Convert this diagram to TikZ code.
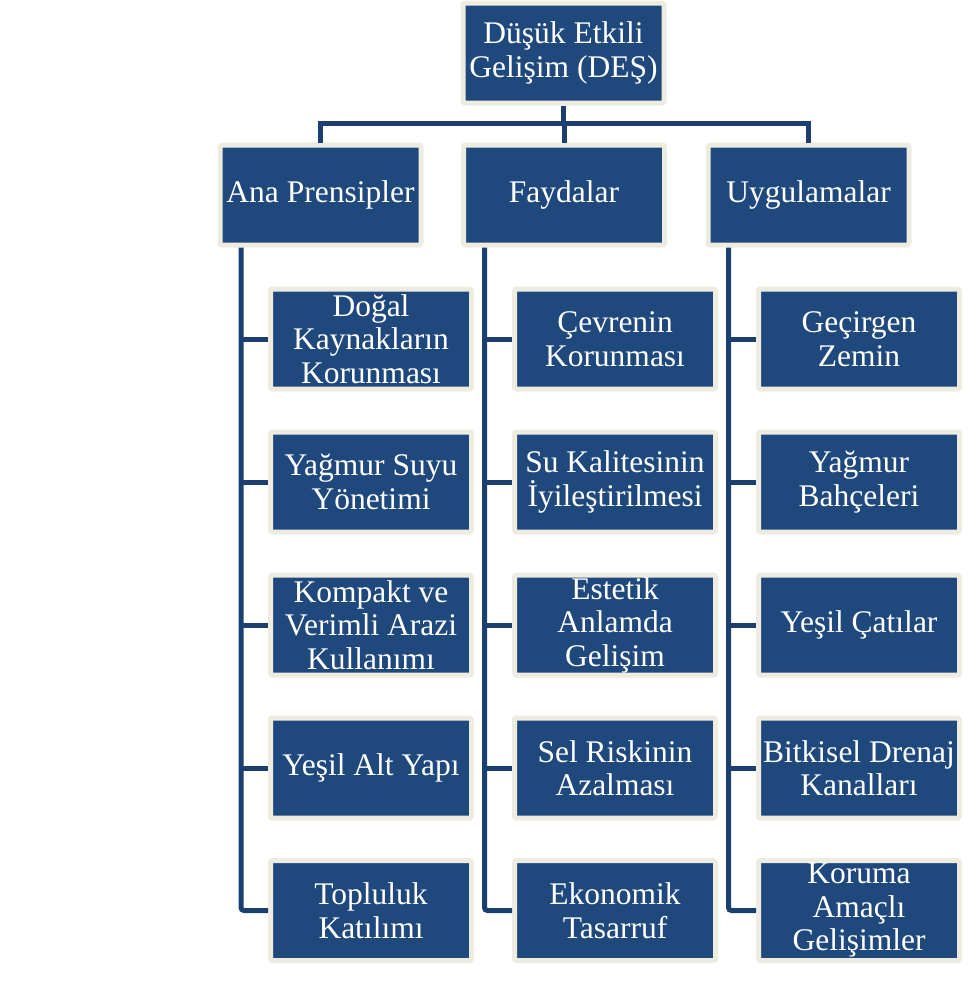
\documentclass[tikz,border=0pt]{standalone}
\usepackage{fontspec}
\setmainfont{Liberation Serif}
\usepackage{tikz}
\usetikzlibrary{positioning}

\definecolor{desblue}{HTML}{1F497D}
\definecolor{deslink}{HTML}{1B406F}
\definecolor{desrim}{HTML}{EEECE1}

\begin{document}
\begin{tikzpicture}[
  x=1pt, y=-1pt,
  desbox/.style={draw=desrim, line width=5pt, fill=desblue, rounded corners=2pt,
                 minimum width=201pt, minimum height=100pt,
                 align=center, inner sep=0pt, text=white,
                 font=\fontsize{31.5}{33.5}\selectfont},
  conn/.style={draw=deslink, line width=5pt},
  spine/.style={conn, rounded corners=3pt},
]
\useasboundingbox (0,0) rectangle (979,985);

% Root
\node[desbox] (root) at (563.5, 53) {Düşük Etkili\\Gelişim (DEŞ)};

% Level 1
\node[desbox] (ana) at (320.5, 195) {Ana Prensipler};
\node[desbox] (fay) at (564, 195) {Faydalar};
\node[desbox] (uyg) at (808.5, 195) {Uygulamalar};

% Ana Prensipler
\node[desbox] (a1) at (371, 339) {Doğal\\Kaynakların\\Korunması};
\node[desbox] (a2) at (371, 482) {Yağmur Suyu\\Yönetimi};
\node[desbox] (a3) at (371, 625) {Kompakt ve\\Verimli Arazi\\Kullanımı};
\node[desbox] (a4) at (371, 768) {Yeşil Alt Yapı};
\node[desbox] (a5) at (371, 910.5) {Topluluk\\Katılımı};

% Faydalar
\node[desbox] (f1) at (615, 339) {Çevrenin\\Korunması};
\node[desbox] (f2) at (615, 482) {Su Kalitesinin\\İyileştirilmesi};
\node[desbox] (f3) at (615, 625) {Estetik\\Anlamda\\Gelişim};
\node[desbox] (f4) at (615, 768) {Sel Riskinin\\Azalması};
\node[desbox] (f5) at (615, 910.5) {Ekonomik\\Tasarruf};

% Uygulamalar
\node[desbox] (u1) at (859, 339) {Geçirgen\\Zemin};
\node[desbox] (u2) at (859, 482) {Yağmur\\Bahçeleri};
\node[desbox] (u3) at (859, 625) {Yeşil Çatılar};
\node[desbox] (u4) at (859, 768) {Bitkisel Drenaj\\Kanalları};
\node[desbox] (u5) at (859, 910.5) {Koruma\\Amaçlı\\Gelişimler};

% Bus from root to level 1
\draw[conn] (root.south) -- ++(0,18) coordinate (bus);
\draw[conn] (ana.north) |- (bus) -| (uyg.north);
\draw[conn] (fay.north) -- (fay.north |- bus);

% Spines
\coordinate (anasp) at (241, 0);
\coordinate (faysp) at (484.5, 0);
\coordinate (uygsp) at (728.5, 0);
\draw[spine] (anasp |- ana.south) |- (a5.west);
\draw[spine] (faysp |- fay.south) |- (f5.west);
\draw[spine] (uygsp |- uyg.south) |- (u5.west);
\foreach \c in {a1,a2,a3,a4} \draw[conn] (anasp |- \c.west) -- (\c.west);
\foreach \c in {f1,f2,f3,f4} \draw[conn] (faysp |- \c.west) -- (\c.west);
\foreach \c in {u1,u2,u3,u4} \draw[conn] (uygsp |- \c.west) -- (\c.west);

\end{tikzpicture}
\end{document}
